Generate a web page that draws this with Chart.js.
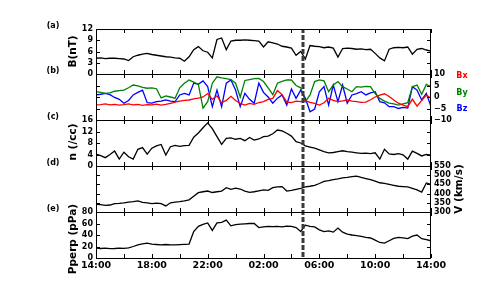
<!DOCTYPE html>
<html>
<head>
<meta charset="utf-8">
<script src="https://cdn.jsdelivr.net/npm/chart.js@4.4.1/dist/chart.umd.min.js"></script>
<style>
  html, body { margin: 0; padding: 0; background: #fff; }
  #wrap { position: relative; width: 479px; height: 287px; }
  #wrap canvas { position: absolute; left: 0; top: 0; }
</style>
</head>
<body>
<div id="wrap">
  <canvas id="pa" width="479" height="287"></canvas>
  <canvas id="pb" width="479" height="287"></canvas>
  <canvas id="pc" width="479" height="287"></canvas>
  <canvas id="pd" width="479" height="287"></canvas>
  <canvas id="pe" width="479" height="287"></canvas>
</div>
<script>
// one sample every 20 minutes, 14:00 -> 14:00 next day
const B = [4.2, 4.3, 4.1, 4.2, 4.2, 4.1, 4.0, 3.6, 4.6, 5.0, 5.3, 5.5,
  5.2, 5.0, 4.8, 4.6, 4.5, 4.3, 4.2, 3.4, 4.6, 6.5, 7.3, 6.2,
  5.8, 4.3, 9.2, 9.6, 6.5, 8.8, 9.0, 9.0, 9.1, 9.0, 8.9, 8.8,
  7.2, 8.6, 8.3, 8.0, 7.4, 7.2, 6.9, 5.0, 6.0, 4.0, 7.6, 7.4,
  7.3, 7.0, 7.2, 6.9, 4.5, 6.8, 6.9, 6.8, 6.6, 6.7, 6.5, 6.6,
  5.5, 4.3, 3.5, 6.6, 7.0, 7.1, 7.0, 7.2, 5.3, 6.6, 6.8, 6.4, 6.1];

const Bx = [-3.4, -3.3, -3.0, -3.4, -3.2, -3.5, -3.3, -3.0, -3.4, -3.2, -3.6, -3.3,
  -3.4, -3.1, -3.5, -3.2, -2.8, -2.2, -1.8, -1.5, -1.3, -0.8, -0.5, 0.0,
  1.5, -1.0, 0.5, -2.5, -1.5, 0.3, -1.5, -2.8, -3.5, -2.8, -3.2, -2.4,
  -2.0, -1.0, -0.6, 2.8, 1.0, -2.2, -2.4, -1.8, -2.0, -1.6, -2.3, -2.8,
  -3.5, -2.5, -0.6, -1.5, -2.0, -1.7, -1.3, -1.8, -2.0, -2.3, -2.2, -1.2,
  0.0, 0.8, 1.4, 0.2, -1.3, -2.7, -3.5, -4.2, -1.0, -4.0, -1.5, 0.8, -0.6];

const By = [2.3, 2.0, 1.6, 1.8, 2.5, 2.8, 3.0, 4.0, 5.2, 4.8, 4.2, 3.8,
  4.0, 3.6, -0.4, 0.5, 0.0, -0.5, 4.0, 6.0, 7.4, 6.5, 5.5, -4.8,
  -2.0, 6.0, 8.8, 8.3, 8.0, 7.6, 6.0, 0.0, 7.2, 7.6, 8.0, 8.1,
  6.7, 4.0, 1.0, 6.0, 6.8, 7.4, 7.4, 5.0, 4.0, -2.0, 0.9, 6.7,
  7.4, 7.0, 2.3, 5.2, 6.7, 4.5, 3.5, 2.3, 4.5, 4.3, 4.6, 4.5,
  1.5, -0.6, -1.8, -2.7, -3.0, -3.5, -3.0, -2.5, 4.5, 5.2, 1.2, 5.5, 4.5];

const Bz = [0.9, 1.2, 1.6, 1.0, -0.2, -1.0, -2.7, -1.5, 0.9, 2.0, 3.0, -2.5,
  -2.7, -2.0, -1.8, -1.3, -1.8, -2.0, 0.9, 1.6, 0.9, 6.0, 5.5, 7.0,
  4.5, -4.2, 3.0, -4.2, 6.0, 7.4, 3.0, -4.2, 1.6, -1.0, -2.7, 6.0,
  2.0, 0.0, -2.7, -0.5, 0.9, -3.5, 3.5, -0.6, 3.0, -0.6, -6.4, -5.2,
  2.3, 4.5, -3.5, 5.2, -2.0, 5.2, -2.7, 0.9, 1.5, 2.3, 0.9, 1.8,
  2.3, -2.0, -2.5, -4.2, -4.2, -5.0, -4.5, -4.8, 4.5, 3.0, -1.3, 1.6, -4.2];

const density = [4.1, 3.6, 2.9, 4.0, 5.2, 2.4, 4.8, 3.2, 2.4, 5.8, 6.4, 4.1,
  6.2, 7.0, 7.5, 3.8, 6.7, 7.2, 6.8, 7.1, 7.2, 10.0, 11.5, 13.3,
  15.0, 13.0, 10.2, 7.5, 9.6, 9.8, 9.3, 9.6, 8.8, 9.9, 9.0, 9.4,
  10.2, 10.4, 11.2, 12.5, 12.2, 11.4, 10.4, 8.5, 8.0, 7.0, 6.6, 6.2,
  5.6, 5.0, 4.6, 4.7, 5.0, 5.3, 5.0, 4.8, 4.6, 4.4, 4.5, 4.3,
  4.6, 2.4, 5.8, 4.2, 4.0, 4.3, 3.9, 2.4, 5.2, 4.4, 3.5, 4.0, 3.8];

const speed = [342, 340, 336, 338, 345, 347, 350, 354, 356, 360, 352, 350,
  346, 348, 345, 333, 350, 354, 356, 360, 366, 385, 405, 410,
  414, 406, 410, 414, 432, 423, 430, 425, 414, 407, 410, 415,
  420, 418, 432, 436, 438, 414, 418, 423, 428, 436, 440, 445,
  455, 466, 470, 476, 480, 485, 488, 492, 495, 488, 482, 476,
  468, 459, 455, 450, 445, 440, 438, 436, 429, 420, 408, 458, 450];

const pperp = [17.4, 16.5, 17.0, 16.2, 16.5, 17.2, 16.8, 17.6, 20.0, 23.0, 24.5, 26.0,
  24.0, 23.5, 23.0, 23.5, 22.8, 23.0, 23.4, 23.8, 24.3, 46.0, 55.0, 58.5,
  61.0, 48.0, 61.0, 62.0, 66.0, 56.0, 58.0, 59.0, 59.5, 60.0, 60.0, 53.0,
  54.0, 55.0, 54.5, 55.0, 54.0, 55.5, 55.0, 53.0, 46.0, 57.0, 55.0, 54.0,
  49.0, 46.0, 47.0, 45.0, 52.0, 45.0, 41.7, 40.0, 39.0, 37.7, 36.0, 34.8,
  31.0, 27.0, 26.0, 30.0, 34.0, 36.0, 35.0, 33.6, 38.0, 40.0, 33.6, 32.0, 30.0];

const timeLabels = ["14:00", "18:00", "22:00", "02:00", "06:00", "10:00", "14:00"];
const bTickLabels = ["\u221210", "\u22125", "0", "5", "10"];
const eventHour = 14.83; // 04:50

const hours = B.map((v, i) => i / 3);
const xy = arr => arr.map((v, i) => ({ x: hours[i], y: v }));

const FONT = '"DejaVu Sans", "Liberation Sans", sans-serif';

const panelDeco = {
  id: "panelDeco",
  afterDatasetsDraw(chart, args, opts) {
    const { ctx, chartArea, scales } = chart;
    const { left, right, top, bottom } = chartArea;
    const x = scales.x, y = scales.y;
    ctx.save();

    // event line
    const ex = Math.round(x.getPixelForValue(eventHour));
    ctx.strokeStyle = "#3a3a3a";
    ctx.lineWidth = 3;
    ctx.setLineDash([5, 2]);
    ctx.lineDashOffset = top;
    ctx.beginPath();
    ctx.moveTo(ex, top);
    ctx.lineTo(ex, bottom);
    ctx.stroke();
    ctx.setLineDash([]);

    // frame + inward ticks
    ctx.strokeStyle = "#000";
    ctx.lineWidth = 1;
    ctx.strokeRect(left + 0.5, top + 0.5, right - left - 1, bottom - top);
    ctx.beginPath();
    x.ticks.forEach(t => {
      const px = Math.round(x.getPixelForValue(t.value)) + 0.5;
      ctx.moveTo(px, top); ctx.lineTo(px, top + 4);
      ctx.moveTo(px, bottom); ctx.lineTo(px, bottom - 4);
    });
    y.ticks.forEach(t => {
      const py = Math.round(y.getPixelForValue(t.value)) + 0.5;
      ctx.moveTo(left, py); ctx.lineTo(left + 4, py);
      ctx.moveTo(right, py); ctx.lineTo(right - 4, py);
    });
    ctx.stroke();

    ctx.fillStyle = "#000";
    ctx.textAlign = "center";
    ctx.textBaseline = "middle";
    ctx.font = "bold 8px " + FONT;
    ctx.fillText(opts.label, 53, top - 3.5);

    if (opts.legend) {
      opts.legend.forEach((item, i) => {
        ctx.fillStyle = item.color;
        ctx.fillText(item.text, 462, top + 2 + i * 16.5);
      });
    }

    ctx.fillStyle = "#000";
    ctx.font = "bold 10.5px " + FONT;
    if (opts.title) {
      ctx.save();
      ctx.translate(73, (top + bottom) / 2 + (opts.shift || 0));
      ctx.rotate(-Math.PI / 2);
      ctx.fillText(opts.title, 0, 0);
      ctx.restore();
    }
    if (opts.rightTitle) {
      ctx.save();
      ctx.translate(459, (top + bottom) / 2);
      ctx.rotate(-Math.PI / 2);
      ctx.fillText(opts.rightTitle, 0, 0);
      ctx.restore();
    }
    ctx.restore();
  }
};

function line(data, color, axis) {
  return {
    data: xy(data),
    borderColor: color,
    borderWidth: 1.3,
    pointRadius: 0,
    tension: 0,
    yAxisID: axis || "y"
  };
}

function makePanel(id, top, bottom, datasets, yRange, cfg) {
  const showX = !!cfg.showX;
  const tickFont = { family: FONT, size: 8, weight: "bold" };
  const yScale = (side, labels) => ({
    position: side,
    min: yRange.min,
    max: yRange.max,
    grid: { display: false, drawTicks: false },
    border: { display: false },
    ticks: {
      display: labels,
      stepSize: yRange.step,
      padding: 3,
      color: "#000",
      font: tickFont,
      autoSkip: false,
      callback: yRange.labels ? (v, i) => yRange.labels[i] : v => v
    },
    afterFit: s => { s.width = side === "left" ? 96 : 48; }
  });

  return new Chart(document.getElementById(id), {
    type: "line",
    data: { datasets },
    options: {
      responsive: false,
      animation: false,
      events: [],
      layout: { padding: { left: 0, right: 0, top: top, bottom: showX ? 287 - bottom - 18 : 287 - bottom } },
      plugins: {
        legend: { display: false },
        tooltip: { enabled: false },
        panelDeco: cfg.deco
      },
      scales: {
        x: {
          type: "linear",
          min: 0,
          max: 24,
          display: showX,
          grid: { display: false, drawTicks: false },
          border: { display: false },
          ticks: {
            stepSize: 2,
            autoSkip: false,
            maxRotation: 0,
            padding: 2,
            color: "#000",
            font: { family: FONT, size: 9.5, weight: "bold" },
            callback: (v, i) => (i % 2 === 0 ? timeLabels[i / 2] : "")
          },
          afterFit: s => { s.height = showX ? 18 : 0; }
        },
        y: yScale("left", !!cfg.leftLabels),
        yr: yScale("right", !!cfg.rightLabels)
      }
    },
    plugins: [panelDeco]
  });
}

makePanel("pa", 29, 74, [line(B, "#000")],
  { min: 0, max: 12, step: 3 },
  { leftLabels: true, deco: { label: "(a)", title: "B(nT)" } });

makePanel("pb", 74, 120,
  [line(Bx, "#ff0000", "yr"), line(By, "#008000", "yr"), line(Bz, "#0000ff", "yr")],
  { min: -10, max: 10, step: 5, labels: bTickLabels },
  { rightLabels: true, deco: { label: "(b)", legend: [
    { text: "Bx", color: "#ff0000" }, { text: "By", color: "#008000" }, { text: "Bz", color: "#0000ff" }] } });

makePanel("pc", 120, 166, [line(density, "#000")],
  { min: 0, max: 16, step: 4 },
  { leftLabels: true, deco: { label: "(c)", title: "n (/cc)", shift: -1 } });

makePanel("pd", 166, 212, [line(speed, "#000", "yr")],
  { min: 300, max: 550, step: 50 },
  { rightLabels: true, deco: { label: "(d)", rightTitle: "V (km/s)" } });

makePanel("pe", 212, 258, [line(pperp, "#000")],
  { min: 0, max: 80, step: 20 },
  { leftLabels: true, showX: true, deco: { label: "(e)", title: "Pperp (pPa)", shift: 4 } });
</script>
</body>
</html>
